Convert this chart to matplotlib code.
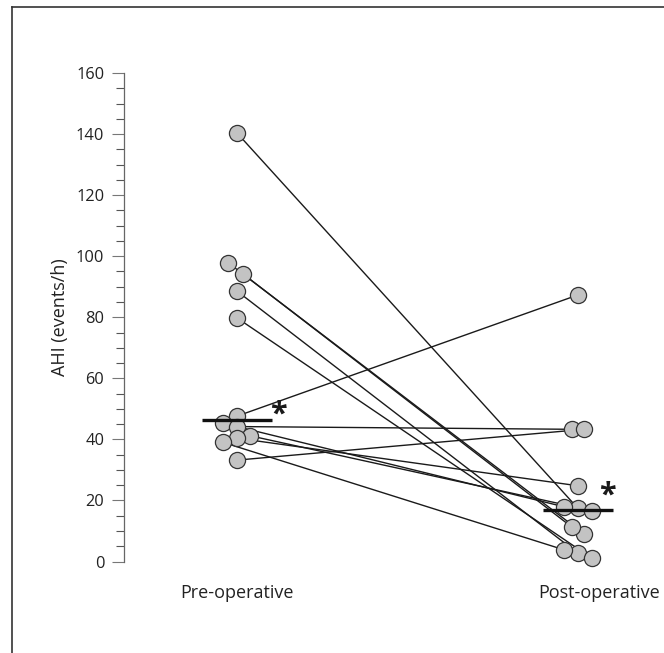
import numpy as np
import matplotlib.pyplot as plt
from matplotlib.lines import Line2D

plt.rcParams['font.family'] = ['Open Sans', 'DejaVu Sans']

# AHI values (events/h), paired pre -> post per patient
pre_ahi = [140.4, 97.8, 94.2, 88.6, 79.8, 47.6, 45.3, 44.2, 41.2, 40.4, 39.0, 33.2]
post_ahi = [17.4, 9.0, 11.2, 2.7, 1.0, 87.3, 17.9, 43.3, 16.6, 24.8, 3.8, 43.3]
groups = ["Pre-operative", "Post-operative"]

# horizontal nudges so overlapping circles stay visible (data units)
pre_nudge = [0.0, -0.025, 0.018, 0.0, 0.0, 0.0, -0.04, 0.0, 0.038, 0.0, -0.04, 0.0]
post_nudge = [0.0, 0.018, -0.017, 0.0, 0.042, 0.0, -0.04, -0.017, 0.042, 0.0, -0.04, 0.019]

W, H = 664, 653
fig = plt.figure(figsize=(W / 100, H / 100), dpi=100)
ax = fig.add_axes([124 / W, 91.5 / H, (640 - 124) / W, (561.5 - 73) / H])

x_pre = np.array(pre_nudge)
x_post = 1 + np.array(post_nudge)

for i in range(len(pre_ahi)):
    ax.plot([x_pre[i], x_post[i]], [pre_ahi[i], post_ahi[i]],
            color="#1a1a1a", lw=1.0, zorder=2, clip_on=False)

ax.scatter(np.concatenate([x_pre, x_post]), pre_ahi + post_ahi,
           s=135, facecolor="#c3c3c3", edgecolor="#333333", linewidth=0.9,
           zorder=3, clip_on=False)

# median bars with asterisk (asterisk offset in data units: dx, dy)
star_offsets = [(0.122, 1.6), (0.085, 4.6)]
for xc, vals, (dx, dy) in zip([0, 1], [pre_ahi, post_ahi], star_offsets):
    med = np.median(vals)
    ax.plot([xc - 0.103, xc + 0.103], [med, med], color="#111111", lw=2.4,
            zorder=4, solid_capstyle="butt", clip_on=False)
    ax.text(xc + dx, med + dy, "*", fontsize=22, fontweight="bold",
            ha="center", va="center", color="#1a1a1a", zorder=5)

ax.set_xlim(-0.331, 1.182)
ax.set_ylim(0, 160)

ax.set_yticks(np.arange(0, 161, 20))
ax.set_yticks(np.arange(0, 161, 5), minor=True)
ax.tick_params(axis="y", which="major", length=8.8, width=0.8, color="#777777",
               labelsize=11.8, labelcolor="#222222", pad=5.5)
ax.tick_params(axis="y", which="minor", length=6, width=0.8, color="#555555")
ax.set_xticks([0, 1.062])
ax.set_xticklabels(groups)
ax.tick_params(axis="x", length=0, labelsize=13, labelcolor="#222222", pad=16)

for s in ["top", "right", "bottom"]:
    ax.spines[s].set_visible(False)
ax.spines["left"].set_color("#666666")
ax.spines["left"].set_linewidth(0.9)

ax.set_ylabel("AHI (events/h)", fontsize=13, color="#222222")
ax.yaxis.set_label_coords(-0.107, 0.5)

# panel frame (left and top edges)
fig.add_artist(Line2D([12 / W, 12 / W], [0, 1 - 7 / H], color="#333333", lw=1.2))
fig.add_artist(Line2D([12 / W, 1], [1 - 7 / H, 1 - 7 / H], color="#333333", lw=1.2))

fig.savefig("out.png", dpi=100)
